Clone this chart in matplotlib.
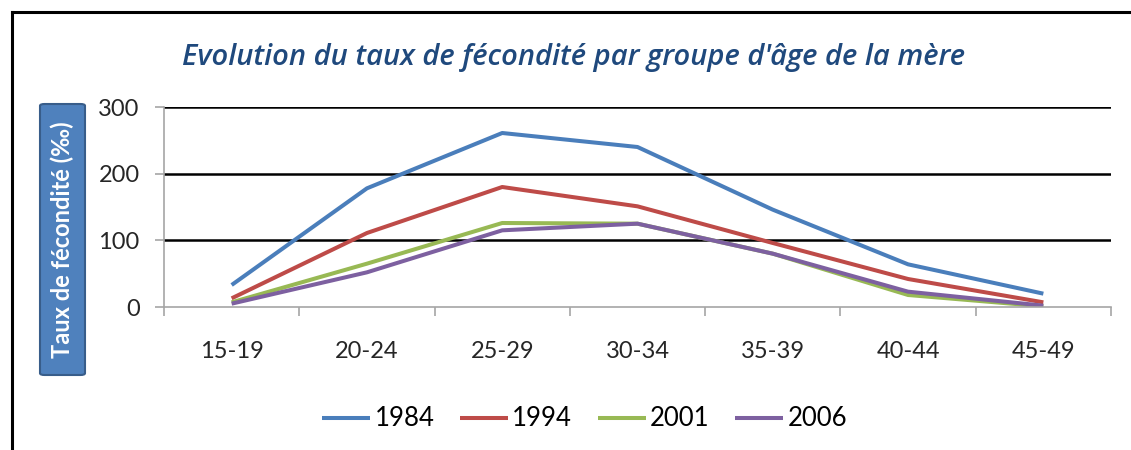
import numpy as np
import matplotlib
matplotlib.use('Agg')
import matplotlib.pyplot as plt
from matplotlib.patches import FancyBboxPatch
from matplotlib.lines import Line2D

plt.rcParams['font.family'] = ['Lato', 'DejaVu Sans']

# data (per thousand)
groups = ['15-19', '20-24', '25-29', '30-34', '35-39', '40-44', '45-49']
years = ['1984', '1994', '2001', '2006']
t1984 = [33, 178, 261, 240, 146, 64, 20]
t1994 = [13, 111, 180, 151, 96, 42, 7]
t2001 = [7, 65, 126, 125, 80, 18, 1]
t2006 = [5, 52, 115, 125, 80, 23, 2]
colors = ['#4A7EBB', '#BE4B48', '#98B954', '#7D60A0']

W, H = 1131, 450
fig = plt.figure(figsize=(W / 100, H / 100), dpi=100)
ax = fig.add_axes([164 / W, 1 - 307 / H, (1111 - 164) / W, 200 / H])

x = np.arange(len(groups))
for vals, yr, c in zip([t1984, t1994, t2001, t2006], years, colors):
    ax.plot(x, vals, color=c, lw=2.9, label=yr, solid_capstyle='butt')

ax.set_xlim(-0.5, len(groups) - 0.5)
ax.set_ylim(0, 300)
ax.set_yticks([0, 100, 200, 300])
for yv in [100, 200, 300]:
    ax.axhline(yv, color='black', lw=1.8, zorder=0)

gray = '#A6A6A6'
for s in ['top', 'right']:
    ax.spines[s].set_visible(False)
for s in ['left', 'bottom']:
    ax.spines[s].set_color(gray)
    ax.spines[s].set_linewidth(1.2)

ax.set_xticks(x)
ax.set_xticklabels(groups)
ax.set_xticks(np.arange(-0.5, len(groups)), minor=True)
ax.tick_params(axis='x', which='major', length=0, pad=24.5, labelsize=17, labelcolor='#262626')
ax.tick_params(axis='x', which='minor', length=6.5, width=1.2, color=gray, direction='out')
ax.tick_params(axis='y', length=6.5, width=1.2, color=gray, pad=11, labelsize=17, labelcolor='#262626')

fig.text(0.507, 1 - 58 / H, "Evolution du taux de fécondité par groupe d'âge de la mère",
         ha='center', va='center', fontsize=21, style='italic', fontweight='semibold',
         color='#1F497D', family=['Open Sans', 'DejaVu Sans'])

# y label box
box = FancyBboxPatch((40 / W, 1 - 375 / H), 45 / W, 271 / H, boxstyle='round,pad=0,rounding_size=0.004',
                     transform=fig.transFigure, facecolor='#4F81BD', edgecolor='#385D8A', lw=1.5)
fig.patches.append(box)
fig.text(62.5 / W, 1 - 240 / H, 'Taux de fécondité (‰)', rotation=90, ha='center', va='center',
         fontsize=17, fontweight='bold', color='white')

# outer border
fig.add_artist(Line2D([12 / W, 12 / W], [0, 1 - 12 / H], color='black', lw=2.2, transform=fig.transFigure))
fig.add_artist(Line2D([12 / W, 1], [1 - 12 / H, 1 - 12 / H], color='black', lw=2.2, transform=fig.transFigure))

fig.legend(loc='center', bbox_to_anchor=(0.517, 1 - 419 / H), ncol=4, frameon=False,
           fontsize=18.5, handlelength=1.87, handletextpad=0.16, columnspacing=1.0)

fig.savefig('out.png', dpi=100)
